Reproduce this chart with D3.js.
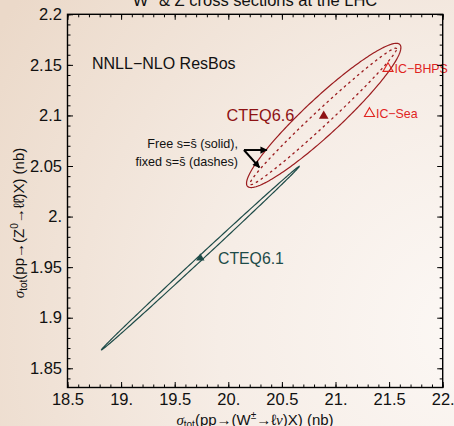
<!DOCTYPE html>
<html><head><meta charset="utf-8">
<script src="https://cdn.jsdelivr.net/npm/d3@7"></script>
<style>
body{margin:0;background:#f3e9e0;}
svg{display:block;font-family:"Liberation Sans",Arial,Helvetica,sans-serif;}
</style>
</head><body>
<svg id="c" width="454" height="426"></svg>
<script>
// ---------- data ----------
const xDomain = [18.5, 22];
const yDomain = [1.831, 2.2];
const xTicks = [18.5, 19, 19.5, 20, 20.5, 21, 21.5, 22];
const xTickLabels = ["18.5", "19.", "19.5", "20.", "20.5", "21.", "21.5", "22."];
const yTicks = [1.85, 1.9, 1.95, 2.0, 2.05, 2.1, 2.15, 2.2];
const yTickLabels = ["1.85", "1.9", "1.95", "2.", "2.05", "2.1", "2.15", "2.2"];

// error ellipses: centre, sigma_x, sigma_y, correlation
const ellipseNames = ["CTEQ6.6 free s", "CTEQ6.6 fixed s", "CTEQ6.1"];
const ellipseCx = [20.89, 20.885, 19.74];
const ellipseCy = [2.100, 2.099, 1.959];
const ellipseSx = [0.720, 0.684, 0.9235];
const ellipseSy = [0.0713, 0.0675, 0.0908];
const ellipseRho = [0.941, 0.988, 0.9994];

// central predictions (filled triangles)
const centralNames = ["CTEQ6.6", "CTEQ6.1"];
const centralX = [20.89, 19.739];
const centralY = [2.0995, 1.959];

// intrinsic charm (open triangles)
const icNames = ["IC\u2212BHPS", "IC\u2212Sea"];
const icX = [21.49, 21.317];
const icY = [2.1464, 2.1019];

// annotation arrow (vertex and two tips)
const arrowFromX = 20.146, arrowFromY = 2.0658;
const arrowToX = [20.36, 20.29];
const arrowToY = [2.0658, 2.0486];

// ---------- drawing ----------
const W = 454, H = 426;
const svg = d3.select("#c");
const x = d3.scaleLinear().domain(xDomain).range([67.5, 442.7]);
const y = d3.scaleLinear().domain(yDomain).range([387.5, 14.3]);

const defs = svg.append("defs");
const rg = defs.append("radialGradient").attr("id", "bg")
  .attr("gradientUnits", "userSpaceOnUse")
  .attr("cx", 470).attr("cy", 330).attr("r", 560);
rg.append("stop").attr("offset", "0").attr("stop-color", "#fcf8f5");
rg.append("stop").attr("offset", "0.45").attr("stop-color", "#f6ede6");
rg.append("stop").attr("offset", "1").attr("stop-color", "#ebd9c9");
svg.append("rect").attr("width", W).attr("height", H).attr("fill", "url(#bg)");

defs.append("marker").attr("id", "ah").attr("viewBox", "0 0 10 10")
  .attr("refX", 9).attr("refY", 5).attr("markerWidth", 4.2).attr("markerHeight", 3.6)
  .attr("markerUnits", "strokeWidth").attr("orient", "auto")
  .append("path").attr("d", "M0,0L10,5L0,10Z").attr("fill", "#000");

// ellipses
const N = 240;
const ellipseColors = ["#9b1c1f", "#9b1c1f", "#1e4b48"];
const ellipseDash = [null, "2.6,3.2", null];
const line = d3.line().x(d => x(d[0])).y(d => y(d[1]));
ellipseNames.forEach((n, i) => {
  const pts = d3.range(N + 1).map(k => {
    const t = 2 * Math.PI * k / N;
    const r = ellipseRho[i];
    return [ellipseCx[i] + ellipseSx[i] * Math.cos(t),
            ellipseCy[i] + ellipseSy[i] * (r * Math.cos(t) + Math.sqrt(1 - r * r) * Math.sin(t))];
  });
  svg.append("path").attr("d", line(pts)).attr("fill", "none")
    .attr("stroke", ellipseColors[i]).attr("stroke-width", i === 1 ? 1.3 : 1.2)
    .attr("stroke-dasharray", ellipseDash[i]);
});

// central triangles
const centralColors = ["#8e1214", "#1e4b48"];
const centralSizes = [40, 30];
centralNames.forEach((n, i) => {
  svg.append("path").attr("d", d3.symbol(d3.symbolTriangle, centralSizes[i])())
    .attr("transform", `translate(${x(centralX[i])},${y(centralY[i])})`)
    .attr("fill", centralColors[i]);
});

// IC points and labels
icNames.forEach((n, i) => {
  svg.append("path").attr("d", d3.symbol(d3.symbolTriangle, 44)())
    .attr("transform", `translate(${x(icX[i])},${y(icY[i])})`)
    .attr("fill", "none").attr("stroke", "#e0241f").attr("stroke-width", 1.1);
  svg.append("text").attr("x", x(icX[i]) + 6.5).attr("y", y(icY[i]) + 4.5)
    .attr("font-size", 12.4).attr("fill", "#e0241f").text(n);
});

// labels
svg.append("text").attr("x", 92).attr("y", 69).attr("font-size", 16).attr("fill", "#111")
  .text("NNLL\u2212NLO ResBos");
svg.append("text").attr("x", 226.5).attr("y", 121).attr("font-size", 16.3).attr("fill", "#8e1214")
  .text(centralNames[0]);
svg.append("text").attr("x", 218).attr("y", 263.5).attr("font-size", 15.8).attr("fill", "#1e4b48")
  .text(centralNames[1]);

const ann = svg.append("g").attr("font-size", 12.6).attr("fill", "#111").attr("text-anchor", "end");
const a1 = ann.append("text").attr("x", 238).attr("y", 147.5);
a1.append("tspan").text("Free s=s\u0304 (solid),");
const a2 = ann.append("text").attr("x", 238).attr("y", 165.5);
a2.append("tspan").text("fixed s=s\u0304 (dashes)");

// arrows
arrowToX.forEach((tx, i) => {
  svg.append("line").attr("x1", x(arrowFromX)).attr("y1", y(arrowFromY))
    .attr("x2", x(tx)).attr("y2", y(arrowToY[i]))
    .attr("stroke", "#000").attr("stroke-width", 2).attr("marker-end", "url(#ah)");
});

// axes
const minorX = d3.range(18.5, 22.0001, 0.1);
const minorY = d3.range(1.84, 2.2001, 0.01);
function styleAxis(g) {
  g.select(".domain").remove();
  g.selectAll("line").attr("stroke", "#000").attr("stroke-width", 1);
  g.selectAll("text").attr("font-size", 16.5).attr("fill", "#111")
    .attr("font-family", "'Liberation Sans',Arial,sans-serif");
}
// bottom
svg.append("g").attr("transform", "translate(0,387.5)")
  .call(d3.axisBottom(x).tickValues(minorX).tickSize(-3).tickFormat(""))
  .call(styleAxis);
svg.append("g").attr("transform", "translate(0,387.5)")
  .call(d3.axisBottom(x).tickValues(xTicks).tickSize(-5.5).tickPadding(5.5)
    .tickFormat((d, i) => xTickLabels[i]))
  .call(styleAxis);
// top
svg.append("g").attr("transform", "translate(0,14.3)")
  .call(d3.axisTop(x).tickValues(minorX).tickSize(-3).tickFormat(""))
  .call(styleAxis);
svg.append("g").attr("transform", "translate(0,14.3)")
  .call(d3.axisTop(x).tickValues(xTicks).tickSize(-5.5).tickFormat(""))
  .call(styleAxis);
// left
svg.append("g").attr("transform", "translate(67.5,0)")
  .call(d3.axisLeft(y).tickValues(minorY).tickSize(-3).tickFormat(""))
  .call(styleAxis);
svg.append("g").attr("transform", "translate(67.5,0)")
  .call(d3.axisLeft(y).tickValues(yTicks).tickSize(-5.5).tickPadding(5.5)
    .tickFormat((d, i) => yTickLabels[i]))
  .call(styleAxis);
// right
svg.append("g").attr("transform", "translate(442.7,0)")
  .call(d3.axisRight(y).tickValues(minorY).tickSize(-3).tickFormat(""))
  .call(styleAxis);
svg.append("g").attr("transform", "translate(442.7,0)")
  .call(d3.axisRight(y).tickValues(yTicks).tickSize(-5.5).tickFormat(""))
  .call(styleAxis);
svg.selectAll("g.tick text").filter(function(){ return this.textContent === ""; }).remove();

// frame
svg.append("rect").attr("x", 67.5).attr("y", 14.3).attr("width", 442.7 - 67.5).attr("height", 387.5 - 14.3)
  .attr("fill", "none").attr("stroke", "#000").attr("stroke-width", 1.4);

// title (partly cut off at top, as in the original)
const title = svg.append("text").attr("x", 255).attr("y", 5.5).attr("text-anchor", "middle")
  .attr("font-size", 16.5).attr("fill", "#111");
title.append("tspan").text("W");
title.append("tspan").attr("font-size", 11).attr("dy", -6).text("\u00b1");
title.append("tspan").attr("dy", 6).text(" & Z cross sections at the LHC");

// x-axis title
const xt = svg.append("text").attr("x", 255).attr("y", 424.5).attr("text-anchor", "middle")
  .attr("font-size", 15).attr("fill", "#111");
xt.append("tspan").attr("font-family", "'Liberation Serif',serif").attr("font-style", "italic").text("\u03c3");
xt.append("tspan").attr("font-size", 10).attr("dy", 3).text("tot");
xt.append("tspan").attr("dy", -3).text("(pp\u2192(W");
xt.append("tspan").attr("font-size", 10).attr("dy", -6).text("\u00b1");
xt.append("tspan").attr("dy", 6).text("\u2192\u2113");
xt.append("tspan").attr("font-family", "'Liberation Serif',serif").attr("font-style", "italic").text("\u03bd");
xt.append("tspan").text(")X) (nb)");

// y-axis title
const yt = svg.append("text").attr("transform", "translate(24,223) rotate(-90)").attr("text-anchor", "middle")
  .attr("font-size", 15).attr("fill", "#111");
yt.append("tspan").attr("font-family", "'Liberation Serif',serif").attr("font-style", "italic").text("\u03c3");
yt.append("tspan").attr("font-size", 10).attr("dy", 3).text("tot");
yt.append("tspan").attr("dy", -3).text("(pp\u2192(Z");
yt.append("tspan").attr("font-size", 10).attr("dy", -6).text("0");
yt.append("tspan").attr("dy", 6).text("\u2192\u2113\u2113\u0304");
yt.append("tspan").text(")X) (nb)");
</script>
</body></html>
